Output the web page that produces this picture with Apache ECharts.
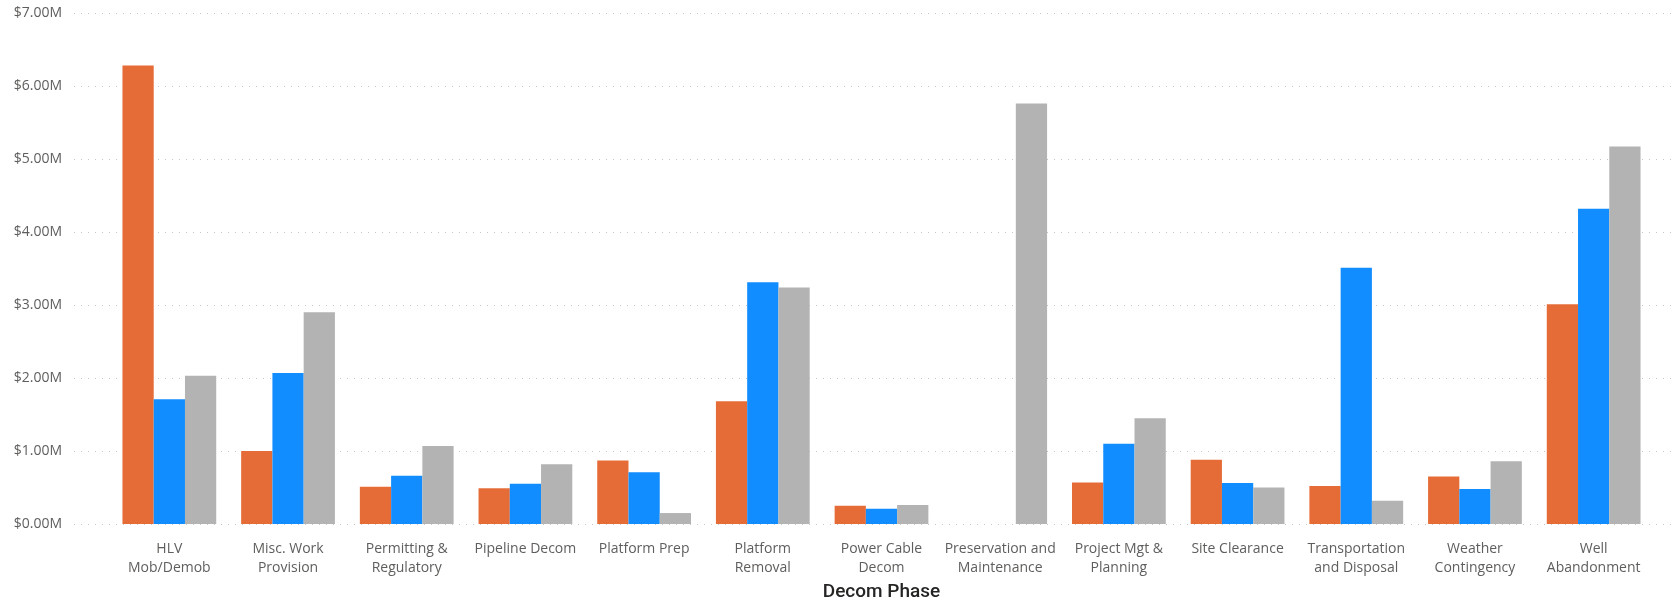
<!DOCTYPE html>
<html>
<head>
<meta charset="utf-8">
<script src="https://cdn.jsdelivr.net/npm/echarts@6/dist/echarts.min.js"></script>
<style>
  html, body { margin: 0; padding: 0; background: #ffffff; }
  #chart { width: 1677px; height: 600px; }
</style>
</head>
<body>
<div id="chart"></div>
<script>
// Decom phase cost breakdown, values in $M
const categories = [
  'HLV\nMob/Demob',
  'Misc. Work\nProvision',
  'Permitting &\nRegulatory',
  'Pipeline Decom',
  'Platform Prep',
  'Platform\nRemoval',
  'Power Cable\nDecom',
  'Preservation and\nMaintenance',
  'Project Mgt &\nPlanning',
  'Site Clearance',
  'Transportation\nand Disposal',
  'Weather\nContingency',
  'Well\nAbandonment'
];
const seriesA = [6.28, 1.00, 0.51, 0.49, 0.87, 1.68, 0.25, null, 0.57, 0.88, 0.52, 0.65, 3.01];
const seriesB = [1.71, 2.07, 0.66, 0.55, 0.71, 3.31, 0.21, null, 1.10, 0.56, 3.51, 0.48, 4.32];
const seriesC = [2.03, 2.90, 1.07, 0.82, 0.15, 3.24, 0.26, 5.76, 1.45, 0.50, 0.32, 0.86, 5.17];
const yTicks = { min: 0, max: 7, interval: 1 };
const axisTitle = 'Decom Phase';

const colors = ['#E66C37', '#118DFF', '#B3B3B3'];
const labelFont = '"Open Sans", "Noto Sans", sans-serif';

const chart = echarts.init(document.getElementById('chart'), null, { renderer: 'canvas' });

const bar = (name, data, color) => ({
  name: name,
  type: 'bar',
  xAxisIndex: 1,
  yAxisIndex: 1,
  data: data,
  barGap: '0%',
  barCategoryGap: '21%',
  itemStyle: { color: color },
  emphasis: { disabled: true }
});

chart.setOption({
  animation: false,
  backgroundColor: '#ffffff',
  grid: [
    // full-width grid carrying the value axis and dotted gridlines
    { left: 74, right: 0, top: 13, bottom: 76, containLabel: false, outerBoundsMode: 'none' },
    // plot band holding the bars
    { left: 110, right: 24, top: 13, bottom: 76, containLabel: false, outerBoundsMode: 'none' }
  ],
  xAxis: [
    { gridIndex: 0, type: 'value', show: false, min: 0, max: 1 },
    {
      gridIndex: 1,
      type: 'category',
      data: categories,
      axisLine: { show: false },
      axisTick: { show: false },
      axisLabel: {
        interval: 0,
        margin: 16,
        color: '#605E5C',
        fontFamily: labelFont,
        fontSize: 14,
        lineHeight: 19
      },
      name: axisTitle,
      nameLocation: 'middle',
      nameGap: 52,
      nameTextStyle: {
        color: '#252423',
        fontFamily: 'Roboto, "Noto Sans", sans-serif',
        fontWeight: 500,
        fontSize: 19
      }
    }
  ],
  yAxis: [
    {
      gridIndex: 0,
      type: 'value',
      min: yTicks.min,
      max: yTicks.max,
      interval: yTicks.interval,
      axisLine: { show: false },
      axisTick: { show: false },
      axisLabel: {
        margin: 12,
        color: '#605E5C',
        fontFamily: labelFont,
        fontSize: 14,
        formatter: v => '$' + v.toFixed(2) + 'M'
      },
      splitLine: {
        show: true,
        lineStyle: { color: '#C8C6C4', width: 1, type: [1, 6] }
      }
    },
    {
      gridIndex: 1,
      type: 'value',
      min: yTicks.min,
      max: yTicks.max,
      interval: yTicks.interval,
      show: false,
      splitLine: { show: false }
    }
  ],
  series: [
    bar('Estimate A', seriesA, colors[0]),
    bar('Estimate B', seriesB, colors[1]),
    bar('Estimate C', seriesC, colors[2])
  ]
});
</script>
</body>
</html>
